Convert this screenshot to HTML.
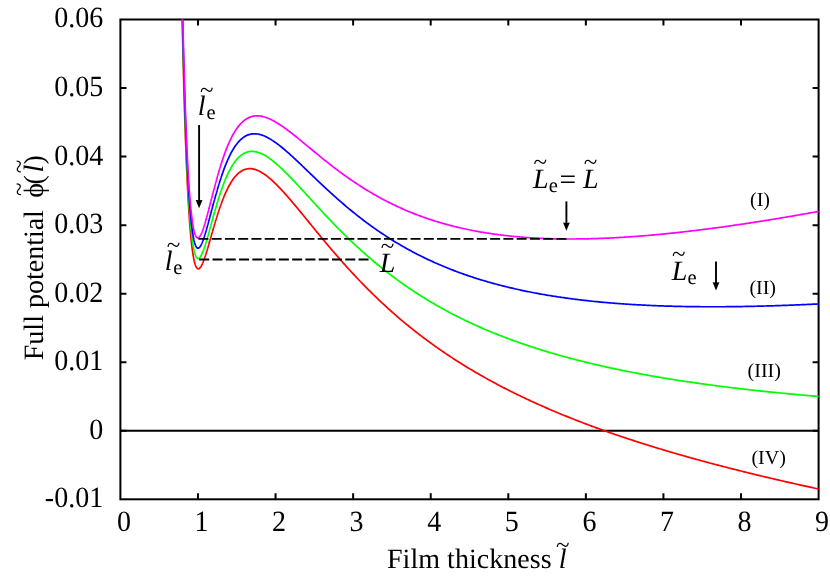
<!DOCTYPE html>
<html><head><meta charset="utf-8"><title>Full potential</title>
<style>html,body{margin:0;padding:0;background:#fff}body{width:830px;height:577px;overflow:hidden;font-family:"Liberation Serif",serif}svg{display:block;will-change:transform}text{text-rendering:geometricPrecision}</style>
</head><body>
<svg width="830" height="577" viewBox="0 0 830 577">
<rect width="830" height="577" fill="#fff"/>
<g font-family="Liberation Serif, serif" font-size="28" fill="#000">
<text transform="translate(103.2,507.25) scale(1,1.05)" text-anchor="end">-0.01</text>
<text transform="translate(103.2,438.71) scale(1,1.05)" text-anchor="end">0</text>
<text transform="translate(103.2,370.16) scale(1,1.05)" text-anchor="end">0.01</text>
<text transform="translate(103.2,301.62) scale(1,1.05)" text-anchor="end">0.02</text>
<text transform="translate(103.2,233.08) scale(1,1.05)" text-anchor="end">0.03</text>
<text transform="translate(103.2,164.54) scale(1,1.05)" text-anchor="end">0.04</text>
<text transform="translate(103.2,95.99) scale(1,1.05)" text-anchor="end">0.05</text>
<text transform="translate(103.2,27.45) scale(1,1.05)" text-anchor="end">0.06</text>
<text transform="translate(123.9,530.9) scale(1,1.05)" text-anchor="middle">0</text>
<text transform="translate(201.5,530.9) scale(1,1.05)" text-anchor="middle">1</text>
<text transform="translate(279.1,530.9) scale(1,1.05)" text-anchor="middle">2</text>
<text transform="translate(356.6,530.9) scale(1,1.05)" text-anchor="middle">3</text>
<text transform="translate(434.2,530.9) scale(1,1.05)" text-anchor="middle">4</text>
<text transform="translate(511.8,530.9) scale(1,1.05)" text-anchor="middle">5</text>
<text transform="translate(589.4,530.9) scale(1,1.05)" text-anchor="middle">6</text>
<text transform="translate(666.9,530.9) scale(1,1.05)" text-anchor="middle">7</text>
<text transform="translate(744.5,530.9) scale(1,1.05)" text-anchor="middle">8</text>
<text transform="translate(822.1,530.9) scale(1,1.05)" text-anchor="middle">9</text>
<text x="387.0" y="567.6" letter-spacing="0.04">Film thickness</text>
<text x="558.8" y="567.8" font-style="italic">l</text>
<text x="556.0" y="552.9" font-size="25">~</text>
<g transform="translate(43.1,360.2) rotate(-90)">
<text x="0" y="0">Full potential</text>
<text x="162.4" y="0">ϕ</text>
<text x="175.6" y="0">(</text>
<text x="187.6" y="0" font-style="italic">l</text>
<text x="195.7" y="0">)</text>
<text x="164.15" y="-16.3" font-size="25">~</text>
<text x="186.95" y="-16.3" font-size="25">~</text>
</g>
</g>
<g stroke="#000" stroke-width="2" fill="none" stroke-linecap="butt">
<path d="M120.4,430.76 H818.6"/>
<path d="M197.98,499.3 v-6 M197.98,19.5 v6 M275.56,499.3 v-6 M275.56,19.5 v6 M353.13,499.3 v-6 M353.13,19.5 v6 M430.71,499.3 v-6 M430.71,19.5 v6 M508.29,499.3 v-6 M508.29,19.5 v6 M585.87,499.3 v-6 M585.87,19.5 v6 M663.44,499.3 v-6 M663.44,19.5 v6 M741.02,499.3 v-6 M741.02,19.5 v6 M120.4,430.76 h6 M818.6,430.76 h-6 M120.4,362.21 h6 M818.6,362.21 h-6 M120.4,293.67 h6 M818.6,293.67 h-6 M120.4,225.13 h6 M818.6,225.13 h-6 M120.4,156.59 h6 M818.6,156.59 h-6 M120.4,88.04 h6 M818.6,88.04 h-6"/>
<rect x="120.4" y="19.5" width="698.20" height="479.80"/>
</g>
<g fill="none" stroke-width="1.7" stroke-linejoin="round">
<path d="M182.22,19.50 L182.30,23.05 L182.40,27.81 L182.51,32.49 L182.61,37.10 L182.72,41.64 L182.82,46.11 L182.93,50.51 L183.03,54.85 L183.14,59.12 L183.24,63.32 L183.35,67.45 L183.45,71.52 L183.56,75.53 L183.66,79.48 L183.77,83.36 L183.87,87.18 L183.98,90.94 L184.08,94.64 L184.19,98.28 L184.29,101.86 L184.40,105.39 L184.50,108.86 L184.61,112.27 L184.71,115.63 L184.82,118.93 L184.92,122.18 L185.03,125.37 L185.13,128.51 L185.24,131.60 L185.34,134.64 L185.45,137.63 L185.55,140.57 L185.66,143.46 L185.76,146.30 L185.87,149.09 L185.97,151.83 L186.08,154.53 L186.18,157.18 L186.29,159.79 L186.39,162.35 L186.50,164.86 L186.60,167.34 L186.71,169.77 L186.81,172.15 L186.92,174.50 L187.02,176.80 L187.13,179.06 L187.23,181.28 L187.34,183.46 L187.44,185.60 L187.55,187.70 L187.65,189.77 L187.76,191.79 L187.86,193.78 L187.97,195.73 L188.07,197.65 L188.18,199.53 L188.28,201.37 L188.39,203.18 L188.49,204.95 L188.60,206.69 L188.70,208.40 L188.81,210.07 L188.91,211.72 L189.02,213.32 L189.12,214.90 L189.23,216.45 L189.33,217.96 L189.44,219.44 L189.54,220.90 L189.65,222.32 L189.75,223.72 L189.86,225.08 L189.96,226.42 L190.07,227.73 L190.17,229.01 L190.28,230.27 L190.38,231.49 L190.49,232.69 L190.59,233.87 L190.70,235.02 L190.80,236.14 L190.91,237.24 L191.01,238.31 L191.12,239.36 L191.22,240.39 L191.33,241.39 L191.43,242.37 L191.54,243.32 L191.64,244.25 L191.75,245.16 L191.85,246.05 L191.96,246.91 L192.06,247.76 L192.17,248.58 L192.27,249.38 L192.38,250.17 L192.48,250.93 L192.59,251.67 L192.69,252.39 L192.80,253.09 L192.90,253.77 L193.01,254.44 L193.11,255.08 L193.22,255.71 L193.32,256.32 L193.43,256.91 L193.53,257.49 L193.64,258.04 L193.74,258.58 L193.85,259.11 L193.95,259.61 L194.06,260.10 L194.16,260.58 L194.27,261.03 L194.37,261.48 L194.48,261.90 L194.58,262.32 L194.69,262.71 L194.79,263.10 L194.90,263.47 L195.00,263.82 L195.11,264.16 L195.21,264.49 L195.32,264.80 L195.42,265.10 L195.53,265.39 L195.63,265.66 L195.74,265.92 L195.84,266.17 L195.95,266.41 L196.05,266.63 L196.16,266.84 L196.26,267.04 L196.37,267.23 L196.47,267.41 L196.58,267.57 L196.68,267.73 L196.79,267.87 L196.89,268.01 L197.00,268.13 L197.10,268.24 L197.21,268.34 L197.31,268.43 L197.42,268.52 L197.52,268.59 L197.63,268.65 L197.73,268.71 L197.84,268.75 L197.94,268.79 L198.05,268.81 L198.15,268.83 L198.26,268.84 L198.36,268.84 L198.47,268.83 L198.57,268.82 L198.68,268.79 L198.78,268.76 L198.89,268.72 L198.99,268.67 L199.10,268.62 L199.20,268.55 L199.31,268.48 L199.41,268.41 L199.52,268.32 L199.62,268.23 L199.73,268.13 L199.83,268.03 L199.94,267.92 L200.04,267.80 L200.15,267.68 L200.25,267.55 L200.36,267.41 L200.46,267.27 L200.57,267.12 L200.67,266.97 L200.78,266.81 L200.88,266.65 L200.99,266.48 L201.09,266.30 L201.20,266.12 L201.30,265.93 L201.41,265.74 L201.51,265.55 L201.62,265.35 L201.72,265.14 L201.83,264.93 L201.93,264.72 L202.04,264.50 L202.14,264.28 L202.25,264.05 L202.35,263.82 L202.46,263.58 L202.56,263.34 L202.67,263.10 L202.77,262.85 L202.88,262.60 L202.98,262.34 L203.09,262.08 L203.19,261.82 L203.30,261.55 L203.40,261.28 L203.51,261.01 L203.61,260.74 L203.72,260.46 L203.82,260.17 L203.93,259.89 L204.03,259.60 L204.14,259.31 L204.24,259.02 L204.35,258.72 L204.45,258.42 L204.56,258.12 L204.66,257.81 L204.77,257.51 L204.87,257.20 L204.98,256.89 L205.08,256.57 L205.19,256.26 L205.29,255.94 L205.40,255.62 L205.50,255.29 L205.61,254.97 L205.71,254.64 L205.82,254.31 L205.92,253.98 L206.03,253.65 L206.13,253.32 L206.24,252.98 L206.34,252.64 L206.45,252.30 L206.55,251.96 L206.66,251.62 L206.76,251.28 L206.87,250.93 L206.97,250.59 L207.08,250.24 L207.18,249.89 L207.29,249.54 L207.39,249.19 L207.50,248.84 L207.60,248.48 L207.71,248.13 L207.81,247.77 L207.92,247.42 L208.02,247.06 L208.13,246.70 L208.23,246.34 L208.34,245.98 L208.44,245.62 L208.55,245.26 L208.65,244.90 L208.76,244.54 L208.86,244.17 L208.97,243.81 L209.07,243.45 L209.18,243.08 L209.28,242.72 L209.39,242.35 L209.49,241.98 L209.60,241.62 L209.70,241.25 L209.81,240.88 L209.91,240.52 L210.02,240.15 L210.12,239.78 L210.23,239.41 L210.33,239.05 L210.44,238.68 L210.54,238.31 L210.65,237.94 L210.75,237.57 L210.86,237.20 L210.96,236.84 L211.07,236.47 L211.17,236.10 L211.28,235.73 L211.38,235.36 L211.49,234.99 L211.59,234.63 L211.70,234.26 L211.80,233.89 L211.91,233.52 L212.01,233.16 L212.12,232.79 L212.22,232.42 L212.33,232.06 L212.43,231.69 L212.54,231.33 L212.64,230.96 L212.75,230.60 L212.85,230.23 L212.96,229.87 L213.06,229.51 L213.17,229.14 L213.27,228.78 L213.38,228.42 L213.48,228.06 L213.59,227.70 L213.69,227.34 L213.80,226.98 L213.90,226.62 L214.01,226.26 L214.11,225.90 L214.22,225.55 L214.32,225.19 L214.43,224.83 L214.53,224.48 L214.64,224.12 L214.74,223.77 L214.85,223.42 L214.95,223.07 L215.06,222.72 L215.16,222.37 L215.27,222.02 L215.37,221.67 L215.48,221.32 L215.58,220.97 L215.69,220.63 L215.79,220.28 L215.90,219.94 L216.00,219.59 L216.11,219.25 L216.21,218.91 L216.32,218.57 L216.42,218.23 L216.53,217.89 L216.63,217.55 L216.74,217.21 L216.84,216.87 L216.95,216.54 L217.05,216.21 L217.16,215.87 L217.26,215.54 L217.37,215.21 L217.47,214.88 L217.58,214.55 L217.68,214.22 L217.79,213.89 L217.89,213.57 L218.00,213.24 L218.10,212.92 L218.21,212.60 L218.31,212.27 L218.42,211.95 L218.52,211.63 L218.63,211.32 L218.73,211.00 L218.84,210.68 L218.94,210.37 L219.05,210.05 L219.15,209.74 L219.26,209.43 L219.36,209.12 L219.47,208.81 L219.57,208.50 L219.68,208.19 L219.78,207.89 L219.89,207.58 L219.99,207.28 L220.10,206.98 L220.20,206.68 L220.31,206.38 L220.41,206.08 L220.52,205.78 L220.62,205.48 L220.73,205.19 L220.83,204.89 L220.94,204.60 L221.04,204.31 L221.15,204.02 L221.25,203.73 L222.45,200.52 L223.65,197.48 L224.84,194.60 L226.04,191.89 L227.24,189.35 L228.43,186.98 L229.63,184.77 L230.83,182.72 L232.02,180.83 L233.22,179.09 L234.42,177.51 L235.62,176.07 L236.81,174.78 L238.01,173.62 L239.21,172.60 L240.40,171.70 L241.60,170.94 L242.80,170.29 L244.00,169.75 L245.19,169.33 L246.39,169.01 L247.59,168.80 L248.78,168.68 L249.98,168.65 L251.18,168.71 L252.38,168.86 L253.57,169.09 L254.77,169.39 L255.97,169.77 L257.16,170.22 L258.36,170.74 L259.56,171.31 L260.76,171.95 L261.95,172.65 L263.15,173.39 L264.35,174.19 L265.54,175.04 L266.74,175.93 L267.94,176.87 L269.13,177.85 L270.33,178.86 L271.53,179.91 L272.73,181.00 L273.92,182.12 L275.12,183.26 L276.32,184.44 L277.51,185.64 L278.71,186.87 L279.91,188.12 L281.11,189.39 L282.30,190.68 L283.50,191.99 L284.70,193.32 L285.89,194.66 L287.09,196.02 L288.29,197.39 L289.49,198.77 L290.68,200.17 L291.88,201.58 L293.08,202.99 L294.27,204.41 L295.47,205.85 L296.67,207.28 L297.86,208.73 L299.06,210.18 L300.26,211.63 L301.46,213.09 L302.65,214.55 L303.85,216.01 L305.05,217.48 L306.24,218.95 L307.44,220.41 L308.64,221.88 L309.84,223.35 L311.03,224.82 L312.23,226.28 L313.43,227.75 L314.62,229.21 L315.82,230.67 L317.02,232.13 L318.22,233.59 L319.41,235.04 L320.61,236.49 L321.81,237.94 L323.00,239.38 L324.20,240.82 L325.40,242.25 L326.60,243.68 L327.79,245.10 L328.99,246.52 L330.19,247.93 L331.38,249.34 L332.58,250.74 L333.78,252.14 L334.97,253.53 L336.17,254.92 L337.37,256.29 L338.57,257.67 L339.76,259.03 L340.96,260.39 L342.16,261.75 L343.35,263.09 L344.55,264.43 L345.75,265.77 L346.95,267.09 L348.14,268.41 L349.34,269.73 L350.54,271.03 L351.73,272.33 L352.93,273.63 L354.13,274.91 L355.33,276.19 L356.52,277.46 L357.72,278.72 L358.92,279.98 L360.11,281.23 L361.31,282.47 L362.51,283.71 L363.71,284.94 L364.90,286.16 L366.10,287.37 L367.30,288.58 L368.49,289.78 L369.69,290.97 L370.89,292.16 L372.08,293.34 L373.28,294.51 L374.48,295.67 L375.68,296.83 L376.87,297.98 L378.07,299.12 L379.27,300.26 L380.46,301.39 L381.66,302.51 L382.86,303.63 L384.06,304.74 L385.25,305.84 L386.45,306.94 L387.65,308.02 L388.84,309.11 L390.04,310.18 L391.24,311.25 L392.44,312.31 L393.63,313.37 L394.83,314.42 L396.03,315.46 L397.22,316.49 L398.42,317.52 L399.62,318.55 L400.81,319.56 L402.01,320.57 L403.21,321.58 L404.41,322.58 L405.60,323.57 L406.80,324.56 L408.00,325.53 L409.19,326.51 L410.39,327.48 L411.59,328.44 L412.79,329.39 L413.98,330.34 L415.18,331.29 L416.38,332.23 L417.57,333.16 L418.77,334.08 L419.97,335.01 L421.17,335.92 L422.36,336.83 L423.56,337.74 L424.76,338.63 L425.95,339.53 L427.15,340.42 L428.35,341.30 L429.55,342.18 L430.74,343.05 L431.94,343.91 L433.14,344.78 L434.33,345.63 L435.53,346.48 L436.73,347.33 L437.92,348.17 L439.12,349.01 L440.32,349.84 L441.52,350.66 L442.71,351.49 L443.91,352.30 L445.11,353.11 L446.30,353.92 L447.50,354.72 L448.70,355.52 L449.90,356.31 L451.09,357.10 L452.29,357.89 L453.49,358.66 L454.68,359.44 L455.88,360.21 L457.08,360.98 L458.28,361.74 L459.47,362.49 L460.67,363.25 L461.87,364.00 L463.06,364.74 L464.26,365.48 L465.46,366.22 L466.65,366.95 L467.85,367.67 L469.05,368.40 L470.25,369.12 L471.44,369.83 L472.64,370.54 L473.84,371.25 L475.03,371.96 L476.23,372.66 L477.43,373.35 L478.63,374.04 L479.82,374.73 L481.02,375.42 L482.22,376.10 L483.41,376.78 L484.61,377.45 L485.81,378.12 L487.01,378.79 L488.20,379.45 L489.40,380.11 L490.60,380.76 L491.79,381.42 L492.99,382.07 L494.19,382.71 L495.39,383.35 L496.58,383.99 L497.78,384.63 L498.98,385.26 L500.17,385.89 L501.37,386.51 L502.57,387.14 L503.76,387.76 L504.96,388.37 L506.16,388.99 L507.36,389.60 L508.55,390.20 L509.75,390.81 L510.95,391.41 L512.14,392.00 L513.34,392.60 L514.54,393.19 L515.74,393.78 L516.93,394.37 L518.13,394.95 L519.33,395.53 L520.52,396.11 L521.72,396.68 L522.92,397.25 L524.12,397.82 L525.31,398.39 L526.51,398.95 L527.71,399.51 L528.90,400.07 L530.10,400.63 L531.30,401.18 L532.50,401.73 L533.69,402.28 L534.89,402.82 L536.09,403.37 L537.28,403.91 L538.48,404.44 L539.68,404.98 L540.87,405.51 L542.07,406.04 L543.27,406.57 L544.47,407.09 L545.66,407.62 L546.86,408.14 L548.06,408.65 L549.25,409.17 L550.45,409.68 L551.65,410.20 L552.85,410.70 L554.04,411.21 L555.24,411.72 L556.44,412.22 L557.63,412.72 L558.83,413.22 L560.03,413.71 L561.23,414.20 L562.42,414.70 L563.62,415.18 L564.82,415.67 L566.01,416.16 L567.21,416.64 L568.41,417.12 L569.60,417.60 L570.80,418.08 L572.00,418.55 L573.20,419.02 L574.39,419.49 L575.59,419.96 L576.79,420.43 L577.98,420.90 L579.18,421.36 L580.38,421.82 L581.58,422.28 L582.77,422.74 L583.97,423.19 L585.17,423.65 L586.36,424.10 L587.56,424.55 L588.76,425.00 L589.96,425.44 L591.15,425.89 L592.35,426.33 L593.55,426.77 L594.74,427.21 L595.94,427.65 L597.14,428.09 L598.34,428.52 L599.53,428.95 L600.73,429.38 L601.93,429.81 L603.12,430.24 L604.32,430.67 L605.52,431.09 L606.71,431.51 L607.91,431.94 L609.11,432.35 L610.31,432.77 L611.50,433.19 L612.70,433.60 L613.90,434.02 L615.09,434.43 L616.29,434.84 L617.49,435.25 L618.69,435.66 L619.88,436.06 L621.08,436.47 L622.28,436.87 L623.47,437.27 L624.67,437.67 L625.87,438.07 L627.07,438.47 L628.26,438.86 L629.46,439.26 L630.66,439.65 L631.85,440.04 L633.05,440.43 L634.25,440.82 L635.44,441.21 L636.64,441.60 L637.84,441.98 L639.04,442.36 L640.23,442.75 L641.43,443.13 L642.63,443.51 L643.82,443.89 L645.02,444.26 L646.22,444.64 L647.42,445.01 L648.61,445.39 L649.81,445.76 L651.01,446.13 L652.20,446.50 L653.40,446.87 L654.60,447.24 L655.80,447.60 L656.99,447.97 L658.19,448.33 L659.39,448.69 L660.58,449.05 L661.78,449.41 L662.98,449.77 L664.18,450.13 L665.37,450.49 L666.57,450.84 L667.77,451.20 L668.96,451.55 L670.16,451.90 L671.36,452.26 L672.55,452.61 L673.75,452.95 L674.95,453.30 L676.15,453.65 L677.34,454.00 L678.54,454.34 L679.74,454.68 L680.93,455.03 L682.13,455.37 L683.33,455.71 L684.53,456.05 L685.72,456.39 L686.92,456.73 L688.12,457.06 L689.31,457.40 L690.51,457.73 L691.71,458.07 L692.91,458.40 L694.10,458.73 L695.30,459.06 L696.50,459.39 L697.69,459.72 L698.89,460.05 L700.09,460.38 L701.28,460.70 L702.48,461.03 L703.68,461.35 L704.88,461.68 L706.07,462.00 L707.27,462.32 L708.47,462.64 L709.66,462.96 L710.86,463.28 L712.06,463.60 L713.26,463.91 L714.45,464.23 L715.65,464.55 L716.85,464.86 L718.04,465.18 L719.24,465.49 L720.44,465.80 L721.64,466.11 L722.83,466.42 L724.03,466.73 L725.23,467.04 L726.42,467.35 L727.62,467.66 L728.82,467.96 L730.02,468.27 L731.21,468.57 L732.41,468.88 L733.61,469.18 L734.80,469.48 L736.00,469.79 L737.20,470.09 L738.39,470.39 L739.59,470.69 L740.79,470.99 L741.99,471.28 L743.18,471.58 L744.38,471.88 L745.58,472.17 L746.77,472.47 L747.97,472.76 L749.17,473.06 L750.37,473.35 L751.56,473.64 L752.76,473.93 L753.96,474.22 L755.15,474.51 L756.35,474.80 L757.55,475.09 L758.75,475.38 L759.94,475.67 L761.14,475.96 L762.34,476.24 L763.53,476.53 L764.73,476.81 L765.93,477.10 L767.13,477.38 L768.32,477.66 L769.52,477.94 L770.72,478.23 L771.91,478.51 L773.11,478.79 L774.31,479.07 L775.50,479.35 L776.70,479.62 L777.90,479.90 L779.10,480.18 L780.29,480.46 L781.49,480.73 L782.69,481.01 L783.88,481.28 L785.08,481.55 L786.28,481.83 L787.48,482.10 L788.67,482.37 L789.87,482.65 L791.07,482.92 L792.26,483.19 L793.46,483.46 L794.66,483.73 L795.86,484.00 L797.05,484.26 L798.25,484.53 L799.45,484.80 L800.64,485.07 L801.84,485.33 L803.04,485.60 L804.23,485.86 L805.43,486.13 L806.63,486.39 L807.83,486.65 L809.02,486.92 L810.22,487.18 L811.42,487.44 L812.61,487.70 L813.81,487.96 L815.01,488.22 L816.21,488.48 L817.40,488.74 L818.60,489.00" stroke="#ff0000"/>
<path d="M182.40,19.50 L182.40,19.59 L182.51,24.26 L182.61,28.86 L182.72,33.38 L182.82,37.84 L182.93,42.23 L183.03,46.55 L183.14,50.80 L183.24,54.99 L183.35,59.11 L183.45,63.17 L183.56,67.16 L183.66,71.09 L183.77,74.96 L183.87,78.77 L183.98,82.51 L184.08,86.20 L184.19,89.83 L184.29,93.40 L184.40,96.91 L184.50,100.36 L184.61,103.76 L184.71,107.10 L184.82,110.39 L184.92,113.63 L185.03,116.81 L185.13,119.93 L185.24,123.01 L185.34,126.04 L185.45,129.01 L185.55,131.93 L185.66,134.81 L185.76,137.63 L185.87,140.41 L185.97,143.14 L186.08,145.83 L186.18,148.46 L186.29,151.06 L186.39,153.60 L186.50,156.10 L186.60,158.56 L186.71,160.98 L186.81,163.35 L186.92,165.68 L187.02,167.97 L187.13,170.22 L187.23,172.42 L187.34,174.59 L187.44,176.72 L187.55,178.80 L187.65,180.85 L187.76,182.87 L187.86,184.84 L187.97,186.78 L188.07,188.68 L188.18,190.55 L188.28,192.37 L188.39,194.17 L188.49,195.93 L188.60,197.66 L188.70,199.35 L188.81,201.01 L188.91,202.64 L189.02,204.23 L189.12,205.79 L189.23,207.32 L189.33,208.82 L189.44,210.29 L189.54,211.73 L189.65,213.14 L189.75,214.53 L189.86,215.88 L189.96,217.20 L190.07,218.50 L190.17,219.76 L190.28,221.00 L190.38,222.22 L190.49,223.41 L190.59,224.57 L190.70,225.70 L190.80,226.81 L190.91,227.89 L191.01,228.95 L191.12,229.99 L191.22,231.00 L191.33,231.99 L191.43,232.95 L191.54,233.89 L191.64,234.81 L191.75,235.71 L191.85,236.58 L191.96,237.43 L192.06,238.26 L192.17,239.07 L192.27,239.86 L192.38,240.63 L192.48,241.37 L192.59,242.10 L192.69,242.81 L192.80,243.50 L192.90,244.17 L193.01,244.82 L193.11,245.45 L193.22,246.06 L193.32,246.66 L193.43,247.23 L193.53,247.79 L193.64,248.34 L193.74,248.86 L193.85,249.37 L193.95,249.86 L194.06,250.34 L194.16,250.80 L194.27,251.24 L194.37,251.67 L194.48,252.09 L194.58,252.49 L194.69,252.87 L194.79,253.24 L194.90,253.59 L195.00,253.93 L195.11,254.26 L195.21,254.57 L195.32,254.87 L195.42,255.16 L195.53,255.43 L195.63,255.69 L195.74,255.94 L195.84,256.17 L195.95,256.39 L196.05,256.60 L196.16,256.80 L196.26,256.99 L196.37,257.16 L196.47,257.33 L196.58,257.48 L196.68,257.62 L196.79,257.75 L196.89,257.87 L197.00,257.98 L197.10,258.07 L197.21,258.16 L197.31,258.24 L197.42,258.31 L197.52,258.37 L197.63,258.42 L197.73,258.46 L197.84,258.49 L197.94,258.51 L198.05,258.52 L198.15,258.53 L198.26,258.52 L198.36,258.51 L198.47,258.48 L198.57,258.45 L198.68,258.42 L198.78,258.37 L198.89,258.32 L198.99,258.26 L199.10,258.19 L199.20,258.11 L199.31,258.03 L199.41,257.94 L199.52,257.84 L199.62,257.73 L199.73,257.62 L199.83,257.50 L199.94,257.38 L200.04,257.25 L200.15,257.11 L200.25,256.97 L200.36,256.82 L200.46,256.66 L200.57,256.50 L200.67,256.33 L200.78,256.16 L200.88,255.98 L200.99,255.80 L201.09,255.61 L201.20,255.41 L201.30,255.21 L201.41,255.01 L201.51,254.80 L201.62,254.58 L201.72,254.36 L201.83,254.14 L201.93,253.91 L202.04,253.68 L202.14,253.44 L202.25,253.20 L202.35,252.95 L202.46,252.70 L202.56,252.45 L202.67,252.19 L202.77,251.93 L202.88,251.67 L202.98,251.40 L203.09,251.12 L203.19,250.85 L203.30,250.57 L203.40,250.28 L203.51,250.00 L203.61,249.71 L203.72,249.41 L203.82,249.12 L203.93,248.82 L204.03,248.52 L204.14,248.21 L204.24,247.90 L204.35,247.59 L204.45,247.28 L204.56,246.96 L204.66,246.65 L204.77,246.33 L204.87,246.00 L204.98,245.68 L205.08,245.35 L205.19,245.02 L205.29,244.69 L205.40,244.35 L205.50,244.01 L205.61,243.68 L205.71,243.33 L205.82,242.99 L205.92,242.65 L206.03,242.30 L206.13,241.95 L206.24,241.60 L206.34,241.25 L206.45,240.90 L206.55,240.55 L206.66,240.19 L206.76,239.83 L206.87,239.47 L206.97,239.11 L207.08,238.75 L207.18,238.39 L207.29,238.03 L207.39,237.66 L207.50,237.29 L207.60,236.93 L207.71,236.56 L207.81,236.19 L207.92,235.82 L208.02,235.45 L208.13,235.08 L208.23,234.70 L208.34,234.33 L208.44,233.96 L208.55,233.58 L208.65,233.20 L208.76,232.83 L208.86,232.45 L208.97,232.07 L209.07,231.69 L209.18,231.32 L209.28,230.94 L209.39,230.56 L209.49,230.18 L209.60,229.80 L209.70,229.42 L209.81,229.04 L209.91,228.65 L210.02,228.27 L210.12,227.89 L210.23,227.51 L210.33,227.13 L210.44,226.75 L210.54,226.36 L210.65,225.98 L210.75,225.60 L210.86,225.22 L210.96,224.83 L211.07,224.45 L211.17,224.07 L211.28,223.69 L211.38,223.30 L211.49,222.92 L211.59,222.54 L211.70,222.16 L211.80,221.78 L211.91,221.40 L212.01,221.02 L212.12,220.64 L212.22,220.25 L212.33,219.87 L212.43,219.50 L212.54,219.12 L212.64,218.74 L212.75,218.36 L212.85,217.98 L212.96,217.60 L213.06,217.23 L213.17,216.85 L213.27,216.47 L213.38,216.10 L213.48,215.72 L213.59,215.35 L213.69,214.97 L213.80,214.60 L213.90,214.23 L214.01,213.85 L214.11,213.48 L214.22,213.11 L214.32,212.74 L214.43,212.37 L214.53,212.00 L214.64,211.64 L214.74,211.27 L214.85,210.90 L214.95,210.54 L215.06,210.17 L215.16,209.81 L215.27,209.44 L215.37,209.08 L215.48,208.72 L215.58,208.36 L215.69,208.00 L215.79,207.64 L215.90,207.28 L216.00,206.92 L216.11,206.56 L216.21,206.21 L216.32,205.85 L216.42,205.50 L216.53,205.15 L216.63,204.79 L216.74,204.44 L216.84,204.09 L216.95,203.74 L217.05,203.40 L217.16,203.05 L217.26,202.70 L217.37,202.36 L217.47,202.01 L217.58,201.67 L217.68,201.33 L217.79,200.99 L217.89,200.65 L218.00,200.31 L218.10,199.97 L218.21,199.63 L218.31,199.30 L218.42,198.96 L218.52,198.63 L218.63,198.30 L218.73,197.97 L218.84,197.64 L218.94,197.31 L219.05,196.98 L219.15,196.65 L219.26,196.33 L219.36,196.00 L219.47,195.68 L219.57,195.36 L219.68,195.04 L219.78,194.72 L219.89,194.40 L219.99,194.08 L220.10,193.76 L220.20,193.45 L220.31,193.13 L220.41,192.82 L220.52,192.51 L220.62,192.20 L220.73,191.89 L220.83,191.58 L220.94,191.28 L221.04,190.97 L221.15,190.67 L221.25,190.36 L222.45,187.00 L223.65,183.80 L224.84,180.76 L226.04,177.89 L227.24,175.19 L228.43,172.66 L229.63,170.29 L230.83,168.08 L232.02,166.03 L233.22,164.14 L234.42,162.40 L235.62,160.80 L236.81,159.35 L238.01,158.03 L239.21,156.85 L240.40,155.80 L241.60,154.87 L242.80,154.07 L244.00,153.37 L245.19,152.79 L246.39,152.31 L247.59,151.94 L248.78,151.66 L249.98,151.48 L251.18,151.38 L252.38,151.37 L253.57,151.44 L254.77,151.59 L255.97,151.81 L257.16,152.10 L258.36,152.45 L259.56,152.87 L260.76,153.35 L261.95,153.89 L263.15,154.48 L264.35,155.12 L265.54,155.80 L266.74,156.54 L267.94,157.32 L269.13,158.13 L270.33,158.99 L271.53,159.88 L272.73,160.81 L273.92,161.77 L275.12,162.76 L276.32,163.77 L277.51,164.82 L278.71,165.89 L279.91,166.98 L281.11,168.09 L282.30,169.22 L283.50,170.37 L284.70,171.54 L285.89,172.73 L287.09,173.93 L288.29,175.14 L289.49,176.37 L290.68,177.60 L291.88,178.85 L293.08,180.11 L294.27,181.37 L295.47,182.64 L296.67,183.92 L297.86,185.21 L299.06,186.50 L300.26,187.80 L301.46,189.09 L302.65,190.40 L303.85,191.70 L305.05,193.01 L306.24,194.32 L307.44,195.63 L308.64,196.94 L309.84,198.24 L311.03,199.55 L312.23,200.86 L313.43,202.17 L314.62,203.47 L315.82,204.78 L317.02,206.08 L318.22,207.37 L319.41,208.67 L320.61,209.96 L321.81,211.24 L323.00,212.53 L324.20,213.81 L325.40,215.08 L326.60,216.35 L327.79,217.62 L328.99,218.88 L330.19,220.13 L331.38,221.38 L332.58,222.62 L333.78,223.86 L334.97,225.09 L336.17,226.32 L337.37,227.54 L338.57,228.75 L339.76,229.96 L340.96,231.16 L342.16,232.36 L343.35,233.55 L344.55,234.73 L345.75,235.90 L346.95,237.07 L348.14,238.23 L349.34,239.39 L350.54,240.53 L351.73,241.67 L352.93,242.81 L354.13,243.93 L355.33,245.05 L356.52,246.17 L357.72,247.27 L358.92,248.37 L360.11,249.46 L361.31,250.55 L362.51,251.62 L363.71,252.69 L364.90,253.75 L366.10,254.81 L367.30,255.86 L368.49,256.90 L369.69,257.93 L370.89,258.96 L372.08,259.98 L373.28,260.99 L374.48,262.00 L375.68,263.00 L376.87,263.99 L378.07,264.98 L379.27,265.95 L380.46,266.92 L381.66,267.89 L382.86,268.85 L384.06,269.80 L385.25,270.74 L386.45,271.68 L387.65,272.61 L388.84,273.53 L390.04,274.45 L391.24,275.36 L392.44,276.26 L393.63,277.16 L394.83,278.05 L396.03,278.93 L397.22,279.81 L398.42,280.68 L399.62,281.54 L400.81,282.40 L402.01,283.25 L403.21,284.10 L404.41,284.94 L405.60,285.77 L406.80,286.60 L408.00,287.42 L409.19,288.23 L410.39,289.04 L411.59,289.85 L412.79,290.64 L413.98,291.43 L415.18,292.22 L416.38,293.00 L417.57,293.77 L418.77,294.54 L419.97,295.30 L421.17,296.06 L422.36,296.81 L423.56,297.56 L424.76,298.30 L425.95,299.03 L427.15,299.76 L428.35,300.49 L429.55,301.20 L430.74,301.92 L431.94,302.63 L433.14,303.33 L434.33,304.03 L435.53,304.72 L436.73,305.41 L437.92,306.09 L439.12,306.77 L440.32,307.44 L441.52,308.11 L442.71,308.77 L443.91,309.43 L445.11,310.08 L446.30,310.73 L447.50,311.37 L448.70,312.01 L449.90,312.65 L451.09,313.28 L452.29,313.90 L453.49,314.52 L454.68,315.14 L455.88,315.75 L457.08,316.36 L458.28,316.96 L459.47,317.56 L460.67,318.15 L461.87,318.74 L463.06,319.33 L464.26,319.91 L465.46,320.48 L466.65,321.06 L467.85,321.63 L469.05,322.19 L470.25,322.75 L471.44,323.31 L472.64,323.86 L473.84,324.41 L475.03,324.96 L476.23,325.50 L477.43,326.03 L478.63,326.57 L479.82,327.10 L481.02,327.62 L482.22,328.15 L483.41,328.67 L484.61,329.18 L485.81,329.69 L487.01,330.20 L488.20,330.70 L489.40,331.20 L490.60,331.70 L491.79,332.20 L492.99,332.69 L494.19,333.17 L495.39,333.66 L496.58,334.14 L497.78,334.61 L498.98,335.09 L500.17,335.56 L501.37,336.02 L502.57,336.49 L503.76,336.95 L504.96,337.41 L506.16,337.86 L507.36,338.31 L508.55,338.76 L509.75,339.21 L510.95,339.65 L512.14,340.09 L513.34,340.52 L514.54,340.96 L515.74,341.39 L516.93,341.81 L518.13,342.24 L519.33,342.66 L520.52,343.08 L521.72,343.49 L522.92,343.91 L524.12,344.32 L525.31,344.73 L526.51,345.13 L527.71,345.53 L528.90,345.93 L530.10,346.33 L531.30,346.72 L532.50,347.11 L533.69,347.50 L534.89,347.89 L536.09,348.27 L537.28,348.66 L538.48,349.03 L539.68,349.41 L540.87,349.78 L542.07,350.16 L543.27,350.52 L544.47,350.89 L545.66,351.26 L546.86,351.62 L548.06,351.98 L549.25,352.33 L550.45,352.69 L551.65,353.04 L552.85,353.39 L554.04,353.74 L555.24,354.09 L556.44,354.43 L557.63,354.77 L558.83,355.11 L560.03,355.45 L561.23,355.78 L562.42,356.11 L563.62,356.44 L564.82,356.77 L566.01,357.10 L567.21,357.42 L568.41,357.75 L569.60,358.07 L570.80,358.38 L572.00,358.70 L573.20,359.01 L574.39,359.33 L575.59,359.64 L576.79,359.95 L577.98,360.25 L579.18,360.56 L580.38,360.86 L581.58,361.16 L582.77,361.46 L583.97,361.76 L585.17,362.05 L586.36,362.34 L587.56,362.64 L588.76,362.92 L589.96,363.21 L591.15,363.50 L592.35,363.78 L593.55,364.07 L594.74,364.35 L595.94,364.63 L597.14,364.90 L598.34,365.18 L599.53,365.45 L600.73,365.73 L601.93,366.00 L603.12,366.26 L604.32,366.53 L605.52,366.80 L606.71,367.06 L607.91,367.32 L609.11,367.59 L610.31,367.85 L611.50,368.10 L612.70,368.36 L613.90,368.61 L615.09,368.87 L616.29,369.12 L617.49,369.37 L618.69,369.62 L619.88,369.87 L621.08,370.11 L622.28,370.36 L623.47,370.60 L624.67,370.84 L625.87,371.08 L627.07,371.32 L628.26,371.56 L629.46,371.79 L630.66,372.03 L631.85,372.26 L633.05,372.49 L634.25,372.72 L635.44,372.95 L636.64,373.18 L637.84,373.40 L639.04,373.63 L640.23,373.85 L641.43,374.07 L642.63,374.30 L643.82,374.52 L645.02,374.73 L646.22,374.95 L647.42,375.17 L648.61,375.38 L649.81,375.60 L651.01,375.81 L652.20,376.02 L653.40,376.23 L654.60,376.44 L655.80,376.64 L656.99,376.85 L658.19,377.06 L659.39,377.26 L660.58,377.46 L661.78,377.66 L662.98,377.86 L664.18,378.06 L665.37,378.26 L666.57,378.46 L667.77,378.66 L668.96,378.85 L670.16,379.04 L671.36,379.24 L672.55,379.43 L673.75,379.62 L674.95,379.81 L676.15,380.00 L677.34,380.18 L678.54,380.37 L679.74,380.55 L680.93,380.74 L682.13,380.92 L683.33,381.10 L684.53,381.29 L685.72,381.47 L686.92,381.64 L688.12,381.82 L689.31,382.00 L690.51,382.18 L691.71,382.35 L692.91,382.52 L694.10,382.70 L695.30,382.87 L696.50,383.04 L697.69,383.21 L698.89,383.38 L700.09,383.55 L701.28,383.72 L702.48,383.88 L703.68,384.05 L704.88,384.21 L706.07,384.38 L707.27,384.54 L708.47,384.70 L709.66,384.86 L710.86,385.03 L712.06,385.18 L713.26,385.34 L714.45,385.50 L715.65,385.66 L716.85,385.81 L718.04,385.97 L719.24,386.12 L720.44,386.28 L721.64,386.43 L722.83,386.58 L724.03,386.73 L725.23,386.88 L726.42,387.03 L727.62,387.18 L728.82,387.33 L730.02,387.48 L731.21,387.62 L732.41,387.77 L733.61,387.91 L734.80,388.06 L736.00,388.20 L737.20,388.34 L738.39,388.48 L739.59,388.62 L740.79,388.77 L741.99,388.90 L743.18,389.04 L744.38,389.18 L745.58,389.32 L746.77,389.45 L747.97,389.59 L749.17,389.73 L750.37,389.86 L751.56,389.99 L752.76,390.13 L753.96,390.26 L755.15,390.39 L756.35,390.52 L757.55,390.65 L758.75,390.78 L759.94,390.91 L761.14,391.04 L762.34,391.17 L763.53,391.29 L764.73,391.42 L765.93,391.54 L767.13,391.67 L768.32,391.79 L769.52,391.92 L770.72,392.04 L771.91,392.16 L773.11,392.28 L774.31,392.40 L775.50,392.52 L776.70,392.64 L777.90,392.76 L779.10,392.88 L780.29,393.00 L781.49,393.12 L782.69,393.23 L783.88,393.35 L785.08,393.46 L786.28,393.58 L787.48,393.69 L788.67,393.81 L789.87,393.92 L791.07,394.03 L792.26,394.14 L793.46,394.26 L794.66,394.37 L795.86,394.48 L797.05,394.59 L798.25,394.70 L799.45,394.80 L800.64,394.91 L801.84,395.02 L803.04,395.13 L804.23,395.23 L805.43,395.34 L806.63,395.44 L807.83,395.55 L809.02,395.65 L810.22,395.76 L811.42,395.86 L812.61,395.96 L813.81,396.06 L815.01,396.17 L816.21,396.27 L817.40,396.37 L818.60,396.47" stroke="#00ff00"/>
<path d="M182.59,19.50 L182.61,20.61 L182.72,25.12 L182.82,29.57 L182.93,33.94 L183.03,38.25 L183.14,42.49 L183.24,46.66 L183.35,50.77 L183.45,54.81 L183.56,58.79 L183.66,62.71 L183.77,66.56 L183.87,70.35 L183.98,74.09 L184.08,77.76 L184.19,81.37 L184.29,84.93 L184.40,88.43 L184.50,91.87 L184.61,95.25 L184.71,98.58 L184.82,101.85 L184.92,105.07 L185.03,108.24 L185.13,111.36 L185.24,114.42 L185.34,117.43 L185.45,120.39 L185.55,123.30 L185.66,126.16 L185.76,128.97 L185.87,131.74 L185.97,134.45 L186.08,137.12 L186.18,139.75 L186.29,142.32 L186.39,144.86 L186.50,147.34 L186.60,149.79 L186.71,152.19 L186.81,154.55 L186.92,156.86 L187.02,159.14 L187.13,161.37 L187.23,163.56 L187.34,165.72 L187.44,167.83 L187.55,169.91 L187.65,171.94 L187.76,173.94 L187.86,175.90 L187.97,177.82 L188.07,179.71 L188.18,181.56 L188.28,183.38 L188.39,185.16 L188.49,186.91 L188.60,188.62 L188.70,190.30 L188.81,191.94 L188.91,193.56 L189.02,195.14 L189.12,196.68 L189.23,198.20 L189.33,199.69 L189.44,201.15 L189.54,202.57 L189.65,203.97 L189.75,205.33 L189.86,206.67 L189.96,207.98 L190.07,209.26 L190.17,210.52 L190.28,211.74 L190.38,212.94 L190.49,214.12 L190.59,215.26 L190.70,216.38 L190.80,217.48 L190.91,218.55 L191.01,219.60 L191.12,220.62 L191.22,221.61 L191.33,222.59 L191.43,223.54 L191.54,224.46 L191.64,225.37 L191.75,226.25 L191.85,227.11 L191.96,227.95 L192.06,228.76 L192.17,229.56 L192.27,230.33 L192.38,231.09 L192.48,231.82 L192.59,232.53 L192.69,233.23 L192.80,233.90 L192.90,234.56 L193.01,235.19 L193.11,235.81 L193.22,236.41 L193.32,236.99 L193.43,237.56 L193.53,238.10 L193.64,238.63 L193.74,239.14 L193.85,239.64 L193.95,240.12 L194.06,240.58 L194.16,241.02 L194.27,241.45 L194.37,241.87 L194.48,242.27 L194.58,242.65 L194.69,243.02 L194.79,243.38 L194.90,243.72 L195.00,244.05 L195.11,244.36 L195.21,244.66 L195.32,244.94 L195.42,245.21 L195.53,245.47 L195.63,245.72 L195.74,245.95 L195.84,246.17 L195.95,246.38 L196.05,246.58 L196.16,246.76 L196.26,246.93 L196.37,247.09 L196.47,247.24 L196.58,247.38 L196.68,247.51 L196.79,247.62 L196.89,247.73 L197.00,247.82 L197.10,247.91 L197.21,247.98 L197.31,248.05 L197.42,248.10 L197.52,248.15 L197.63,248.18 L197.73,248.21 L197.84,248.22 L197.94,248.23 L198.05,248.23 L198.15,248.22 L198.26,248.20 L198.36,248.17 L198.47,248.14 L198.57,248.09 L198.68,248.04 L198.78,247.98 L198.89,247.91 L198.99,247.84 L199.10,247.76 L199.20,247.67 L199.31,247.57 L199.41,247.46 L199.52,247.35 L199.62,247.23 L199.73,247.11 L199.83,246.98 L199.94,246.84 L200.04,246.69 L200.15,246.54 L200.25,246.38 L200.36,246.22 L200.46,246.05 L200.57,245.87 L200.67,245.69 L200.78,245.51 L200.88,245.31 L200.99,245.12 L201.09,244.91 L201.20,244.70 L201.30,244.49 L201.41,244.27 L201.51,244.05 L201.62,243.82 L201.72,243.59 L201.83,243.35 L201.93,243.11 L202.04,242.86 L202.14,242.61 L202.25,242.35 L202.35,242.09 L202.46,241.83 L202.56,241.56 L202.67,241.29 L202.77,241.01 L202.88,240.73 L202.98,240.45 L203.09,240.17 L203.19,239.87 L203.30,239.58 L203.40,239.28 L203.51,238.98 L203.61,238.68 L203.72,238.37 L203.82,238.06 L203.93,237.75 L204.03,237.43 L204.14,237.11 L204.24,236.79 L204.35,236.47 L204.45,236.14 L204.56,235.81 L204.66,235.48 L204.77,235.14 L204.87,234.81 L204.98,234.47 L205.08,234.13 L205.19,233.78 L205.29,233.43 L205.40,233.09 L205.50,232.74 L205.61,232.38 L205.71,232.03 L205.82,231.67 L205.92,231.31 L206.03,230.95 L206.13,230.59 L206.24,230.23 L206.34,229.86 L206.45,229.50 L206.55,229.13 L206.66,228.76 L206.76,228.39 L206.87,228.01 L206.97,227.64 L207.08,227.26 L207.18,226.89 L207.29,226.51 L207.39,226.13 L207.50,225.75 L207.60,225.37 L207.71,224.99 L207.81,224.60 L207.92,224.22 L208.02,223.84 L208.13,223.45 L208.23,223.06 L208.34,222.68 L208.44,222.29 L208.55,221.90 L208.65,221.51 L208.76,221.12 L208.86,220.73 L208.97,220.34 L209.07,219.94 L209.18,219.55 L209.28,219.16 L209.39,218.76 L209.49,218.37 L209.60,217.98 L209.70,217.58 L209.81,217.19 L209.91,216.79 L210.02,216.40 L210.12,216.00 L210.23,215.60 L210.33,215.21 L210.44,214.81 L210.54,214.42 L210.65,214.02 L210.75,213.62 L210.86,213.23 L210.96,212.83 L211.07,212.43 L211.17,212.04 L211.28,211.64 L211.38,211.25 L211.49,210.85 L211.59,210.45 L211.70,210.06 L211.80,209.66 L211.91,209.27 L212.01,208.87 L212.12,208.48 L212.22,208.09 L212.33,207.69 L212.43,207.30 L212.54,206.90 L212.64,206.51 L212.75,206.12 L212.85,205.73 L212.96,205.34 L213.06,204.95 L213.17,204.55 L213.27,204.16 L213.38,203.77 L213.48,203.39 L213.59,203.00 L213.69,202.61 L213.80,202.22 L213.90,201.84 L214.01,201.45 L214.11,201.06 L214.22,200.68 L214.32,200.29 L214.43,199.91 L214.53,199.53 L214.64,199.15 L214.74,198.77 L214.85,198.38 L214.95,198.00 L215.06,197.63 L215.16,197.25 L215.27,196.87 L215.37,196.49 L215.48,196.12 L215.58,195.74 L215.69,195.37 L215.79,195.00 L215.90,194.62 L216.00,194.25 L216.11,193.88 L216.21,193.51 L216.32,193.14 L216.42,192.77 L216.53,192.41 L216.63,192.04 L216.74,191.68 L216.84,191.31 L216.95,190.95 L217.05,190.59 L217.16,190.23 L217.26,189.87 L217.37,189.51 L217.47,189.15 L217.58,188.79 L217.68,188.44 L217.79,188.08 L217.89,187.73 L218.00,187.37 L218.10,187.02 L218.21,186.67 L218.31,186.32 L218.42,185.97 L218.52,185.63 L218.63,185.28 L218.73,184.93 L218.84,184.59 L218.94,184.25 L219.05,183.91 L219.15,183.56 L219.26,183.23 L219.36,182.89 L219.47,182.55 L219.57,182.21 L219.68,181.88 L219.78,181.55 L219.89,181.21 L219.99,180.88 L220.10,180.55 L220.20,180.22 L220.31,179.89 L220.41,179.57 L220.52,179.24 L220.62,178.92 L220.73,178.60 L220.83,178.27 L220.94,177.95 L221.04,177.63 L221.15,177.32 L221.25,177.00 L222.45,173.47 L223.65,170.11 L224.84,166.92 L226.04,163.89 L227.24,161.03 L228.43,158.34 L229.63,155.81 L230.83,153.45 L232.02,151.24 L233.22,149.19 L234.42,147.29 L235.62,145.53 L236.81,143.92 L238.01,142.45 L239.21,141.11 L240.40,139.90 L241.60,138.81 L242.80,137.84 L244.00,136.99 L245.19,136.25 L246.39,135.62 L247.59,135.08 L248.78,134.65 L249.98,134.30 L251.18,134.05 L252.38,133.88 L253.57,133.79 L254.77,133.78 L255.97,133.84 L257.16,133.97 L258.36,134.17 L259.56,134.43 L260.76,134.75 L261.95,135.13 L263.15,135.56 L264.35,136.04 L265.54,136.57 L266.74,137.14 L267.94,137.76 L269.13,138.42 L270.33,139.12 L271.53,139.85 L272.73,140.62 L273.92,141.42 L275.12,142.25 L276.32,143.11 L277.51,144.00 L278.71,144.91 L279.91,145.84 L281.11,146.79 L282.30,147.77 L283.50,148.76 L284.70,149.77 L285.89,150.79 L287.09,151.84 L288.29,152.89 L289.49,153.96 L290.68,155.03 L291.88,156.12 L293.08,157.22 L294.27,158.33 L295.47,159.44 L296.67,160.56 L297.86,161.69 L299.06,162.82 L300.26,163.96 L301.46,165.10 L302.65,166.24 L303.85,167.39 L305.05,168.54 L306.24,169.69 L307.44,170.84 L308.64,171.99 L309.84,173.14 L311.03,174.29 L312.23,175.44 L313.43,176.59 L314.62,177.73 L315.82,178.88 L317.02,180.02 L318.22,181.16 L319.41,182.29 L320.61,183.42 L321.81,184.55 L323.00,185.68 L324.20,186.80 L325.40,187.91 L326.60,189.02 L327.79,190.13 L328.99,191.23 L330.19,192.33 L331.38,193.42 L332.58,194.50 L333.78,195.58 L334.97,196.66 L336.17,197.72 L337.37,198.78 L338.57,199.84 L339.76,200.89 L340.96,201.93 L342.16,202.97 L343.35,204.00 L344.55,205.02 L345.75,206.04 L346.95,207.05 L348.14,208.05 L349.34,209.04 L350.54,210.03 L351.73,211.02 L352.93,211.99 L354.13,212.96 L355.33,213.92 L356.52,214.87 L357.72,215.82 L358.92,216.76 L360.11,217.69 L361.31,218.62 L362.51,219.54 L363.71,220.45 L364.90,221.35 L366.10,222.25 L367.30,223.14 L368.49,224.02 L369.69,224.90 L370.89,225.76 L372.08,226.63 L373.28,227.48 L374.48,228.33 L375.68,229.17 L376.87,230.00 L378.07,230.83 L379.27,231.65 L380.46,232.46 L381.66,233.26 L382.86,234.06 L384.06,234.85 L385.25,235.64 L386.45,236.42 L387.65,237.19 L388.84,237.95 L390.04,238.71 L391.24,239.46 L392.44,240.21 L393.63,240.94 L394.83,241.68 L396.03,242.40 L397.22,243.12 L398.42,243.83 L399.62,244.54 L400.81,245.24 L402.01,245.93 L403.21,246.62 L404.41,247.30 L405.60,247.97 L406.80,248.64 L408.00,249.30 L409.19,249.96 L410.39,250.61 L411.59,251.25 L412.79,251.89 L413.98,252.53 L415.18,253.15 L416.38,253.77 L417.57,254.39 L418.77,255.00 L419.97,255.60 L421.17,256.20 L422.36,256.79 L423.56,257.38 L424.76,257.96 L425.95,258.54 L427.15,259.11 L428.35,259.67 L429.55,260.23 L430.74,260.79 L431.94,261.34 L433.14,261.88 L434.33,262.42 L435.53,262.95 L436.73,263.48 L437.92,264.01 L439.12,264.53 L440.32,265.04 L441.52,265.55 L442.71,266.05 L443.91,266.55 L445.11,267.05 L446.30,267.54 L447.50,268.02 L448.70,268.50 L449.90,268.98 L451.09,269.45 L452.29,269.91 L453.49,270.38 L454.68,270.83 L455.88,271.29 L457.08,271.74 L458.28,272.18 L459.47,272.62 L460.67,273.05 L461.87,273.49 L463.06,273.91 L464.26,274.34 L465.46,274.75 L466.65,275.17 L467.85,275.58 L469.05,275.99 L470.25,276.39 L471.44,276.79 L472.64,277.18 L473.84,277.57 L475.03,277.96 L476.23,278.34 L477.43,278.72 L478.63,279.09 L479.82,279.46 L481.02,279.83 L482.22,280.19 L483.41,280.55 L484.61,280.91 L485.81,281.26 L487.01,281.61 L488.20,281.96 L489.40,282.30 L490.60,282.64 L491.79,282.97 L492.99,283.31 L494.19,283.63 L495.39,283.96 L496.58,284.28 L497.78,284.60 L498.98,284.91 L500.17,285.23 L501.37,285.53 L502.57,285.84 L503.76,286.14 L504.96,286.44 L506.16,286.74 L507.36,287.03 L508.55,287.32 L509.75,287.60 L510.95,287.89 L512.14,288.17 L513.34,288.45 L514.54,288.72 L515.74,288.99 L516.93,289.26 L518.13,289.53 L519.33,289.79 L520.52,290.05 L521.72,290.31 L522.92,290.56 L524.12,290.81 L525.31,291.06 L526.51,291.31 L527.71,291.55 L528.90,291.79 L530.10,292.03 L531.30,292.27 L532.50,292.50 L533.69,292.73 L534.89,292.96 L536.09,293.18 L537.28,293.41 L538.48,293.63 L539.68,293.84 L540.87,294.06 L542.07,294.27 L543.27,294.48 L544.47,294.69 L545.66,294.90 L546.86,295.10 L548.06,295.30 L549.25,295.50 L550.45,295.69 L551.65,295.89 L552.85,296.08 L554.04,296.27 L555.24,296.46 L556.44,296.64 L557.63,296.82 L558.83,297.00 L560.03,297.18 L561.23,297.36 L562.42,297.53 L563.62,297.70 L564.82,297.87 L566.01,298.04 L567.21,298.21 L568.41,298.37 L569.60,298.53 L570.80,298.69 L572.00,298.85 L573.20,299.01 L574.39,299.16 L575.59,299.31 L576.79,299.46 L577.98,299.61 L579.18,299.75 L580.38,299.90 L581.58,300.04 L582.77,300.18 L583.97,300.32 L585.17,300.45 L586.36,300.59 L587.56,300.72 L588.76,300.85 L589.96,300.98 L591.15,301.11 L592.35,301.24 L593.55,301.36 L594.74,301.48 L595.94,301.60 L597.14,301.72 L598.34,301.84 L599.53,301.95 L600.73,302.07 L601.93,302.18 L603.12,302.29 L604.32,302.40 L605.52,302.51 L606.71,302.61 L607.91,302.71 L609.11,302.82 L610.31,302.92 L611.50,303.02 L612.70,303.11 L613.90,303.21 L615.09,303.31 L616.29,303.40 L617.49,303.49 L618.69,303.58 L619.88,303.67 L621.08,303.76 L622.28,303.84 L623.47,303.93 L624.67,304.01 L625.87,304.09 L627.07,304.17 L628.26,304.25 L629.46,304.33 L630.66,304.40 L631.85,304.48 L633.05,304.55 L634.25,304.62 L635.44,304.69 L636.64,304.76 L637.84,304.83 L639.04,304.89 L640.23,304.96 L641.43,305.02 L642.63,305.08 L643.82,305.15 L645.02,305.21 L646.22,305.26 L647.42,305.32 L648.61,305.38 L649.81,305.43 L651.01,305.49 L652.20,305.54 L653.40,305.59 L654.60,305.64 L655.80,305.69 L656.99,305.74 L658.19,305.78 L659.39,305.83 L660.58,305.87 L661.78,305.91 L662.98,305.96 L664.18,306.00 L665.37,306.04 L666.57,306.08 L667.77,306.11 L668.96,306.15 L670.16,306.18 L671.36,306.22 L672.55,306.25 L673.75,306.28 L674.95,306.31 L676.15,306.34 L677.34,306.37 L678.54,306.40 L679.74,306.43 L680.93,306.45 L682.13,306.48 L683.33,306.50 L684.53,306.52 L685.72,306.54 L686.92,306.56 L688.12,306.58 L689.31,306.60 L690.51,306.62 L691.71,306.63 L692.91,306.65 L694.10,306.66 L695.30,306.68 L696.50,306.69 L697.69,306.70 L698.89,306.71 L700.09,306.72 L701.28,306.73 L702.48,306.74 L703.68,306.75 L704.88,306.75 L706.07,306.76 L707.27,306.76 L708.47,306.77 L709.66,306.77 L710.86,306.77 L712.06,306.77 L713.26,306.77 L714.45,306.77 L715.65,306.77 L716.85,306.77 L718.04,306.76 L719.24,306.76 L720.44,306.75 L721.64,306.75 L722.83,306.74 L724.03,306.73 L725.23,306.73 L726.42,306.72 L727.62,306.71 L728.82,306.70 L730.02,306.68 L731.21,306.67 L732.41,306.66 L733.61,306.64 L734.80,306.63 L736.00,306.61 L737.20,306.60 L738.39,306.58 L739.59,306.56 L740.79,306.54 L741.99,306.53 L743.18,306.51 L744.38,306.48 L745.58,306.46 L746.77,306.44 L747.97,306.42 L749.17,306.39 L750.37,306.37 L751.56,306.35 L752.76,306.32 L753.96,306.29 L755.15,306.27 L756.35,306.24 L757.55,306.21 L758.75,306.18 L759.94,306.15 L761.14,306.12 L762.34,306.09 L763.53,306.06 L764.73,306.02 L765.93,305.99 L767.13,305.96 L768.32,305.92 L769.52,305.89 L770.72,305.85 L771.91,305.82 L773.11,305.78 L774.31,305.74 L775.50,305.70 L776.70,305.66 L777.90,305.62 L779.10,305.58 L780.29,305.54 L781.49,305.50 L782.69,305.46 L783.88,305.42 L785.08,305.37 L786.28,305.33 L787.48,305.29 L788.67,305.24 L789.87,305.20 L791.07,305.15 L792.26,305.10 L793.46,305.05 L794.66,305.01 L795.86,304.96 L797.05,304.91 L798.25,304.86 L799.45,304.81 L800.64,304.76 L801.84,304.71 L803.04,304.66 L804.23,304.60 L805.43,304.55 L806.63,304.50 L807.83,304.44 L809.02,304.39 L810.22,304.33 L811.42,304.28 L812.61,304.22 L813.81,304.17 L815.01,304.11 L816.21,304.05 L817.40,303.99 L818.60,303.93" stroke="#0000ff"/>
<path d="M182.78,19.50 L182.82,21.29 L182.93,25.65 L183.03,29.95 L183.14,34.17 L183.24,38.33 L183.35,42.42 L183.45,46.45 L183.56,50.42 L183.66,54.32 L183.77,58.16 L183.87,61.94 L183.98,65.66 L184.08,69.32 L184.19,72.92 L184.29,76.46 L184.40,79.94 L184.50,83.37 L184.61,86.74 L184.71,90.06 L184.82,93.32 L184.92,96.52 L185.03,99.68 L185.13,102.78 L185.24,105.82 L185.34,108.82 L185.45,111.77 L185.55,114.66 L185.66,117.51 L185.76,120.31 L185.87,123.06 L185.97,125.76 L186.08,128.42 L186.18,131.03 L186.29,133.59 L186.39,136.11 L186.50,138.58 L186.60,141.01 L186.71,143.40 L186.81,145.75 L186.92,148.05 L187.02,150.31 L187.13,152.53 L187.23,154.71 L187.34,156.85 L187.44,158.95 L187.55,161.01 L187.65,163.03 L187.76,165.01 L187.86,166.96 L187.97,168.87 L188.07,170.74 L188.18,172.58 L188.28,174.38 L188.39,176.15 L188.49,177.88 L188.60,179.58 L188.70,181.24 L188.81,182.88 L188.91,184.48 L189.02,186.04 L189.12,187.58 L189.23,189.08 L189.33,190.55 L189.44,192.00 L189.54,193.41 L189.65,194.79 L189.75,196.14 L189.86,197.47 L189.96,198.76 L190.07,200.03 L190.17,201.27 L190.28,202.48 L190.38,203.67 L190.49,204.83 L190.59,205.96 L190.70,207.07 L190.80,208.15 L190.91,209.21 L191.01,210.24 L191.12,211.24 L191.22,212.23 L191.33,213.19 L191.43,214.12 L191.54,215.04 L191.64,215.93 L191.75,216.79 L191.85,217.64 L191.96,218.46 L192.06,219.27 L192.17,220.05 L192.27,220.81 L192.38,221.55 L192.48,222.27 L192.59,222.97 L192.69,223.65 L192.80,224.31 L192.90,224.95 L193.01,225.57 L193.11,226.17 L193.22,226.76 L193.32,227.33 L193.43,227.88 L193.53,228.41 L193.64,228.92 L193.74,229.42 L193.85,229.90 L193.95,230.37 L194.06,230.82 L194.16,231.25 L194.27,231.67 L194.37,232.07 L194.48,232.45 L194.58,232.82 L194.69,233.18 L194.79,233.52 L194.90,233.85 L195.00,234.16 L195.11,234.46 L195.21,234.74 L195.32,235.01 L195.42,235.27 L195.53,235.52 L195.63,235.75 L195.74,235.97 L195.84,236.17 L195.95,236.37 L196.05,236.55 L196.16,236.72 L196.26,236.88 L196.37,237.03 L196.47,237.16 L196.58,237.29 L196.68,237.40 L196.79,237.50 L196.89,237.59 L197.00,237.67 L197.10,237.74 L197.21,237.80 L197.31,237.85 L197.42,237.90 L197.52,237.93 L197.63,237.95 L197.73,237.96 L197.84,237.96 L197.94,237.96 L198.05,237.94 L198.15,237.92 L198.26,237.88 L198.36,237.84 L198.47,237.79 L198.57,237.73 L198.68,237.67 L198.78,237.59 L198.89,237.51 L198.99,237.42 L199.10,237.33 L199.20,237.22 L199.31,237.11 L199.41,236.99 L199.52,236.87 L199.62,236.73 L199.73,236.59 L199.83,236.45 L199.94,236.30 L200.04,236.14 L200.15,235.97 L200.25,235.80 L200.36,235.62 L200.46,235.44 L200.57,235.25 L200.67,235.05 L200.78,234.85 L200.88,234.65 L200.99,234.44 L201.09,234.22 L201.20,234.00 L201.30,233.77 L201.41,233.54 L201.51,233.30 L201.62,233.06 L201.72,232.81 L201.83,232.56 L201.93,232.30 L202.04,232.04 L202.14,231.78 L202.25,231.51 L202.35,231.23 L202.46,230.95 L202.56,230.67 L202.67,230.39 L202.77,230.10 L202.88,229.80 L202.98,229.51 L203.09,229.21 L203.19,228.90 L203.30,228.59 L203.40,228.28 L203.51,227.97 L203.61,227.65 L203.72,227.33 L203.82,227.01 L203.93,226.68 L204.03,226.35 L204.14,226.02 L204.24,225.68 L204.35,225.34 L204.45,225.00 L204.56,224.66 L204.66,224.31 L204.77,223.96 L204.87,223.61 L204.98,223.26 L205.08,222.90 L205.19,222.54 L205.29,222.18 L205.40,221.82 L205.50,221.46 L205.61,221.09 L205.71,220.72 L205.82,220.35 L205.92,219.98 L206.03,219.61 L206.13,219.23 L206.24,218.85 L206.34,218.47 L206.45,218.09 L206.55,217.71 L206.66,217.33 L206.76,216.94 L206.87,216.55 L206.97,216.17 L207.08,215.78 L207.18,215.39 L207.29,214.99 L207.39,214.60 L207.50,214.21 L207.60,213.81 L207.71,213.42 L207.81,213.02 L207.92,212.62 L208.02,212.22 L208.13,211.82 L208.23,211.42 L208.34,211.02 L208.44,210.62 L208.55,210.22 L208.65,209.81 L208.76,209.41 L208.86,209.00 L208.97,208.60 L209.07,208.19 L209.18,207.78 L209.28,207.38 L209.39,206.97 L209.49,206.56 L209.60,206.15 L209.70,205.75 L209.81,205.34 L209.91,204.93 L210.02,204.52 L210.12,204.11 L210.23,203.70 L210.33,203.29 L210.44,202.88 L210.54,202.47 L210.65,202.06 L210.75,201.65 L210.86,201.24 L210.96,200.83 L211.07,200.42 L211.17,200.01 L211.28,199.60 L211.38,199.19 L211.49,198.78 L211.59,198.37 L211.70,197.96 L211.80,197.55 L211.91,197.14 L212.01,196.73 L212.12,196.32 L212.22,195.92 L212.33,195.51 L212.43,195.10 L212.54,194.69 L212.64,194.29 L212.75,193.88 L212.85,193.48 L212.96,193.07 L213.06,192.66 L213.17,192.26 L213.27,191.86 L213.38,191.45 L213.48,191.05 L213.59,190.65 L213.69,190.25 L213.80,189.84 L213.90,189.44 L214.01,189.04 L214.11,188.64 L214.22,188.25 L214.32,187.85 L214.43,187.45 L214.53,187.05 L214.64,186.66 L214.74,186.26 L214.85,185.87 L214.95,185.47 L215.06,185.08 L215.16,184.69 L215.27,184.30 L215.37,183.91 L215.48,183.52 L215.58,183.13 L215.69,182.74 L215.79,182.35 L215.90,181.97 L216.00,181.58 L216.11,181.20 L216.21,180.81 L216.32,180.43 L216.42,180.05 L216.53,179.67 L216.63,179.29 L216.74,178.91 L216.84,178.53 L216.95,178.15 L217.05,177.78 L217.16,177.40 L217.26,177.03 L217.37,176.66 L217.47,176.28 L217.58,175.91 L217.68,175.54 L217.79,175.17 L217.89,174.81 L218.00,174.44 L218.10,174.07 L218.21,173.71 L218.31,173.35 L218.42,172.98 L218.52,172.62 L218.63,172.26 L218.73,171.90 L218.84,171.54 L218.94,171.19 L219.05,170.83 L219.15,170.48 L219.26,170.12 L219.36,169.77 L219.47,169.42 L219.57,169.07 L219.68,168.72 L219.78,168.37 L219.89,168.03 L219.99,167.68 L220.10,167.34 L220.20,167.00 L220.31,166.65 L220.41,166.31 L220.52,165.97 L220.62,165.64 L220.73,165.30 L220.83,164.96 L220.94,164.63 L221.04,164.30 L221.15,163.96 L221.25,163.63 L222.45,159.95 L223.65,156.43 L224.84,153.08 L226.04,149.89 L227.24,146.88 L228.43,144.02 L229.63,141.34 L230.83,138.81 L232.02,136.45 L233.22,134.23 L234.42,132.17 L235.62,130.26 L236.81,128.49 L238.01,126.86 L239.21,125.36 L240.40,123.99 L241.60,122.75 L242.80,121.62 L244.00,120.61 L245.19,119.71 L246.39,118.92 L247.59,118.23 L248.78,117.63 L249.98,117.13 L251.18,116.72 L252.38,116.39 L253.57,116.14 L254.77,115.97 L255.97,115.87 L257.16,115.85 L258.36,115.88 L259.56,115.99 L260.76,116.15 L261.95,116.37 L263.15,116.64 L264.35,116.96 L265.54,117.33 L266.74,117.75 L267.94,118.21 L269.13,118.71 L270.33,119.25 L271.53,119.83 L272.73,120.43 L273.92,121.08 L275.12,121.75 L276.32,122.45 L277.51,123.17 L278.71,123.92 L279.91,124.70 L281.11,125.49 L282.30,126.31 L283.50,127.14 L284.70,127.99 L285.89,128.86 L287.09,129.74 L288.29,130.64 L289.49,131.55 L290.68,132.47 L291.88,133.40 L293.08,134.34 L294.27,135.28 L295.47,136.24 L296.67,137.20 L297.86,138.17 L299.06,139.14 L300.26,140.12 L301.46,141.10 L302.65,142.09 L303.85,143.08 L305.05,144.07 L306.24,145.06 L307.44,146.05 L308.64,147.04 L309.84,148.03 L311.03,149.02 L312.23,150.01 L313.43,151.00 L314.62,151.99 L315.82,152.98 L317.02,153.96 L318.22,154.94 L319.41,155.92 L320.61,156.89 L321.81,157.86 L323.00,158.83 L324.20,159.79 L325.40,160.74 L326.60,161.70 L327.79,162.64 L328.99,163.59 L330.19,164.52 L331.38,165.46 L332.58,166.38 L333.78,167.30 L334.97,168.22 L336.17,169.13 L337.37,170.03 L338.57,170.93 L339.76,171.82 L340.96,172.70 L342.16,173.58 L343.35,174.45 L344.55,175.31 L345.75,176.17 L346.95,177.02 L348.14,177.87 L349.34,178.70 L350.54,179.53 L351.73,180.36 L352.93,181.17 L354.13,181.98 L355.33,182.78 L356.52,183.58 L357.72,184.37 L358.92,185.15 L360.11,185.92 L361.31,186.69 L362.51,187.45 L363.71,188.20 L364.90,188.95 L366.10,189.68 L367.30,190.42 L368.49,191.14 L369.69,191.86 L370.89,192.57 L372.08,193.27 L373.28,193.96 L374.48,194.65 L375.68,195.33 L376.87,196.01 L378.07,196.68 L379.27,197.34 L380.46,197.99 L381.66,198.64 L382.86,199.28 L384.06,199.91 L385.25,200.54 L386.45,201.16 L387.65,201.77 L388.84,202.38 L390.04,202.97 L391.24,203.57 L392.44,204.15 L393.63,204.73 L394.83,205.31 L396.03,205.87 L397.22,206.43 L398.42,206.99 L399.62,207.53 L400.81,208.07 L402.01,208.61 L403.21,209.14 L404.41,209.66 L405.60,210.17 L406.80,210.68 L408.00,211.19 L409.19,211.69 L410.39,212.18 L411.59,212.66 L412.79,213.14 L413.98,213.62 L415.18,214.09 L416.38,214.55 L417.57,215.00 L418.77,215.45 L419.97,215.90 L421.17,216.34 L422.36,216.77 L423.56,217.20 L424.76,217.62 L425.95,218.04 L427.15,218.45 L428.35,218.86 L429.55,219.26 L430.74,219.66 L431.94,220.05 L433.14,220.43 L434.33,220.82 L435.53,221.19 L436.73,221.56 L437.92,221.93 L439.12,222.29 L440.32,222.64 L441.52,222.99 L442.71,223.34 L443.91,223.68 L445.11,224.01 L446.30,224.34 L447.50,224.67 L448.70,224.99 L449.90,225.31 L451.09,225.62 L452.29,225.93 L453.49,226.23 L454.68,226.53 L455.88,226.83 L457.08,227.12 L458.28,227.40 L459.47,227.68 L460.67,227.96 L461.87,228.23 L463.06,228.50 L464.26,228.76 L465.46,229.02 L466.65,229.28 L467.85,229.53 L469.05,229.78 L470.25,230.02 L471.44,230.26 L472.64,230.50 L473.84,230.73 L475.03,230.96 L476.23,231.18 L477.43,231.40 L478.63,231.62 L479.82,231.83 L481.02,232.04 L482.22,232.24 L483.41,232.44 L484.61,232.64 L485.81,232.84 L487.01,233.03 L488.20,233.21 L489.40,233.40 L490.60,233.58 L491.79,233.75 L492.99,233.93 L494.19,234.10 L495.39,234.26 L496.58,234.43 L497.78,234.59 L498.98,234.74 L500.17,234.89 L501.37,235.04 L502.57,235.19 L503.76,235.33 L504.96,235.47 L506.16,235.61 L507.36,235.75 L508.55,235.88 L509.75,236.00 L510.95,236.13 L512.14,236.25 L513.34,236.37 L514.54,236.49 L515.74,236.60 L516.93,236.71 L518.13,236.82 L519.33,236.92 L520.52,237.02 L521.72,237.12 L522.92,237.22 L524.12,237.31 L525.31,237.40 L526.51,237.49 L527.71,237.57 L528.90,237.65 L530.10,237.73 L531.30,237.81 L532.50,237.88 L533.69,237.96 L534.89,238.03 L536.09,238.09 L537.28,238.16 L538.48,238.22 L539.68,238.28 L540.87,238.33 L542.07,238.39 L543.27,238.44 L544.47,238.49 L545.66,238.53 L546.86,238.58 L548.06,238.62 L549.25,238.66 L550.45,238.70 L551.65,238.73 L552.85,238.77 L554.04,238.80 L555.24,238.83 L556.44,238.85 L557.63,238.88 L558.83,238.90 L560.03,238.92 L561.23,238.94 L562.42,238.95 L563.62,238.96 L564.82,238.98 L566.01,238.98 L567.21,238.99 L568.41,239.00 L569.60,239.00 L570.80,239.00 L572.00,239.00 L573.20,239.00 L574.39,238.99 L575.59,238.98 L576.79,238.97 L577.98,238.96 L579.18,238.95 L580.38,238.94 L581.58,238.92 L582.77,238.90 L583.97,238.88 L585.17,238.86 L586.36,238.83 L587.56,238.81 L588.76,238.78 L589.96,238.75 L591.15,238.72 L592.35,238.69 L593.55,238.65 L594.74,238.62 L595.94,238.58 L597.14,238.54 L598.34,238.50 L599.53,238.45 L600.73,238.41 L601.93,238.36 L603.12,238.31 L604.32,238.26 L605.52,238.21 L606.71,238.16 L607.91,238.10 L609.11,238.05 L610.31,237.99 L611.50,237.93 L612.70,237.87 L613.90,237.81 L615.09,237.74 L616.29,237.68 L617.49,237.61 L618.69,237.54 L619.88,237.47 L621.08,237.40 L622.28,237.33 L623.47,237.25 L624.67,237.18 L625.87,237.10 L627.07,237.02 L628.26,236.94 L629.46,236.86 L630.66,236.78 L631.85,236.69 L633.05,236.61 L634.25,236.52 L635.44,236.43 L636.64,236.34 L637.84,236.25 L639.04,236.16 L640.23,236.06 L641.43,235.97 L642.63,235.87 L643.82,235.78 L645.02,235.68 L646.22,235.58 L647.42,235.48 L648.61,235.37 L649.81,235.27 L651.01,235.16 L652.20,235.06 L653.40,234.95 L654.60,234.84 L655.80,234.73 L656.99,234.62 L658.19,234.51 L659.39,234.40 L660.58,234.28 L661.78,234.17 L662.98,234.05 L664.18,233.93 L665.37,233.81 L666.57,233.69 L667.77,233.57 L668.96,233.45 L670.16,233.32 L671.36,233.20 L672.55,233.07 L673.75,232.95 L674.95,232.82 L676.15,232.69 L677.34,232.56 L678.54,232.43 L679.74,232.30 L680.93,232.16 L682.13,232.03 L683.33,231.89 L684.53,231.76 L685.72,231.62 L686.92,231.48 L688.12,231.34 L689.31,231.20 L690.51,231.06 L691.71,230.92 L692.91,230.78 L694.10,230.63 L695.30,230.49 L696.50,230.34 L697.69,230.19 L698.89,230.05 L700.09,229.90 L701.28,229.75 L702.48,229.60 L703.68,229.44 L704.88,229.29 L706.07,229.14 L707.27,228.98 L708.47,228.83 L709.66,228.67 L710.86,228.52 L712.06,228.36 L713.26,228.20 L714.45,228.04 L715.65,227.88 L716.85,227.72 L718.04,227.56 L719.24,227.39 L720.44,227.23 L721.64,227.07 L722.83,226.90 L724.03,226.73 L725.23,226.57 L726.42,226.40 L727.62,226.23 L728.82,226.06 L730.02,225.89 L731.21,225.72 L732.41,225.55 L733.61,225.38 L734.80,225.20 L736.00,225.03 L737.20,224.85 L738.39,224.68 L739.59,224.50 L740.79,224.32 L741.99,224.15 L743.18,223.97 L744.38,223.79 L745.58,223.61 L746.77,223.43 L747.97,223.25 L749.17,223.06 L750.37,222.88 L751.56,222.70 L752.76,222.51 L753.96,222.33 L755.15,222.14 L756.35,221.96 L757.55,221.77 L758.75,221.58 L759.94,221.39 L761.14,221.20 L762.34,221.01 L763.53,220.82 L764.73,220.63 L765.93,220.44 L767.13,220.25 L768.32,220.05 L769.52,219.86 L770.72,219.67 L771.91,219.47 L773.11,219.27 L774.31,219.08 L775.50,218.88 L776.70,218.68 L777.90,218.49 L779.10,218.29 L780.29,218.09 L781.49,217.89 L782.69,217.69 L783.88,217.48 L785.08,217.28 L786.28,217.08 L787.48,216.88 L788.67,216.67 L789.87,216.47 L791.07,216.26 L792.26,216.06 L793.46,215.85 L794.66,215.65 L795.86,215.44 L797.05,215.23 L798.25,215.02 L799.45,214.82 L800.64,214.61 L801.84,214.40 L803.04,214.19 L804.23,213.97 L805.43,213.76 L806.63,213.55 L807.83,213.34 L809.02,213.13 L810.22,212.91 L811.42,212.70 L812.61,212.48 L813.81,212.27 L815.01,212.05 L816.21,211.84 L817.40,211.62 L818.60,211.40" stroke="#ff00ff"/>
</g>
<g stroke="#000" stroke-width="1.85" fill="none">
<path d="M198.4,238.8 H566.4" stroke-dasharray="10 3.26"/>
<path d="M199.2,259.5 H369.2" stroke-dasharray="10 3.28"/>
</g>
<path d="M199.1,125 V202.2" stroke="#000" stroke-width="1.9" fill="none"/><path d="M199.1,208.20 L195.7,200.00 L199.1,200.30 L202.5,200.00 Z" fill="#000"/>
<path d="M566.4,201.4 V224.79999999999998" stroke="#000" stroke-width="1.9" fill="none"/><path d="M566.4,230.80 L563.0,222.60 L566.4,222.90 L569.8,222.60 Z" fill="#000"/>
<path d="M716,261.5 V284.5" stroke="#000" stroke-width="1.9" fill="none"/><path d="M716,290.50 L712.6,282.30 L716,282.60 L719.4,282.30 Z" fill="#000"/>
<g font-family="Liberation Serif, serif" fill="#000">
<text x="197.80" y="114.55" font-size="28" font-style="italic">l</text><text x="206.38" y="118.70" font-size="20.5">e</text><text x="199.90" y="97.67" font-size="25.0">~</text>
<text x="164.70" y="269.95" font-size="28" font-style="italic">l</text><text x="173.28" y="274.10" font-size="20.5">e</text><text x="166.80" y="253.08" font-size="25.0">~</text>
<text x="379.80" y="271.95" font-size="28" font-style="italic">L</text><text x="380.80" y="254.47" font-size="25.0">~</text>
<text x="533.00" y="187.75" font-size="28" font-style="italic">L</text><text x="548.70" y="191.75" font-size="20.5">e</text><text x="533.40" y="169.78" font-size="25.0">~</text>
<text x="559.5" y="188.9" font-size="29.5">=</text>
<text x="582.90" y="187.75" font-size="28" font-style="italic">L</text><text x="583.80" y="170.47" font-size="25.0">~</text>
<text x="671.70" y="279.90" font-size="28" font-style="italic">L</text><text x="687.40" y="283.85" font-size="20.5">e</text><text x="671.90" y="262.12" font-size="25.0">~</text>
<text x="750" y="206.1" font-size="20">(I)</text>
<text x="749.4" y="293.8" font-size="20">(II)</text>
<text x="747.6" y="376.6" font-size="20">(III)</text>
<text x="751.4" y="464.4" font-size="20">(IV)</text>
</g>
</svg>
</body></html>
